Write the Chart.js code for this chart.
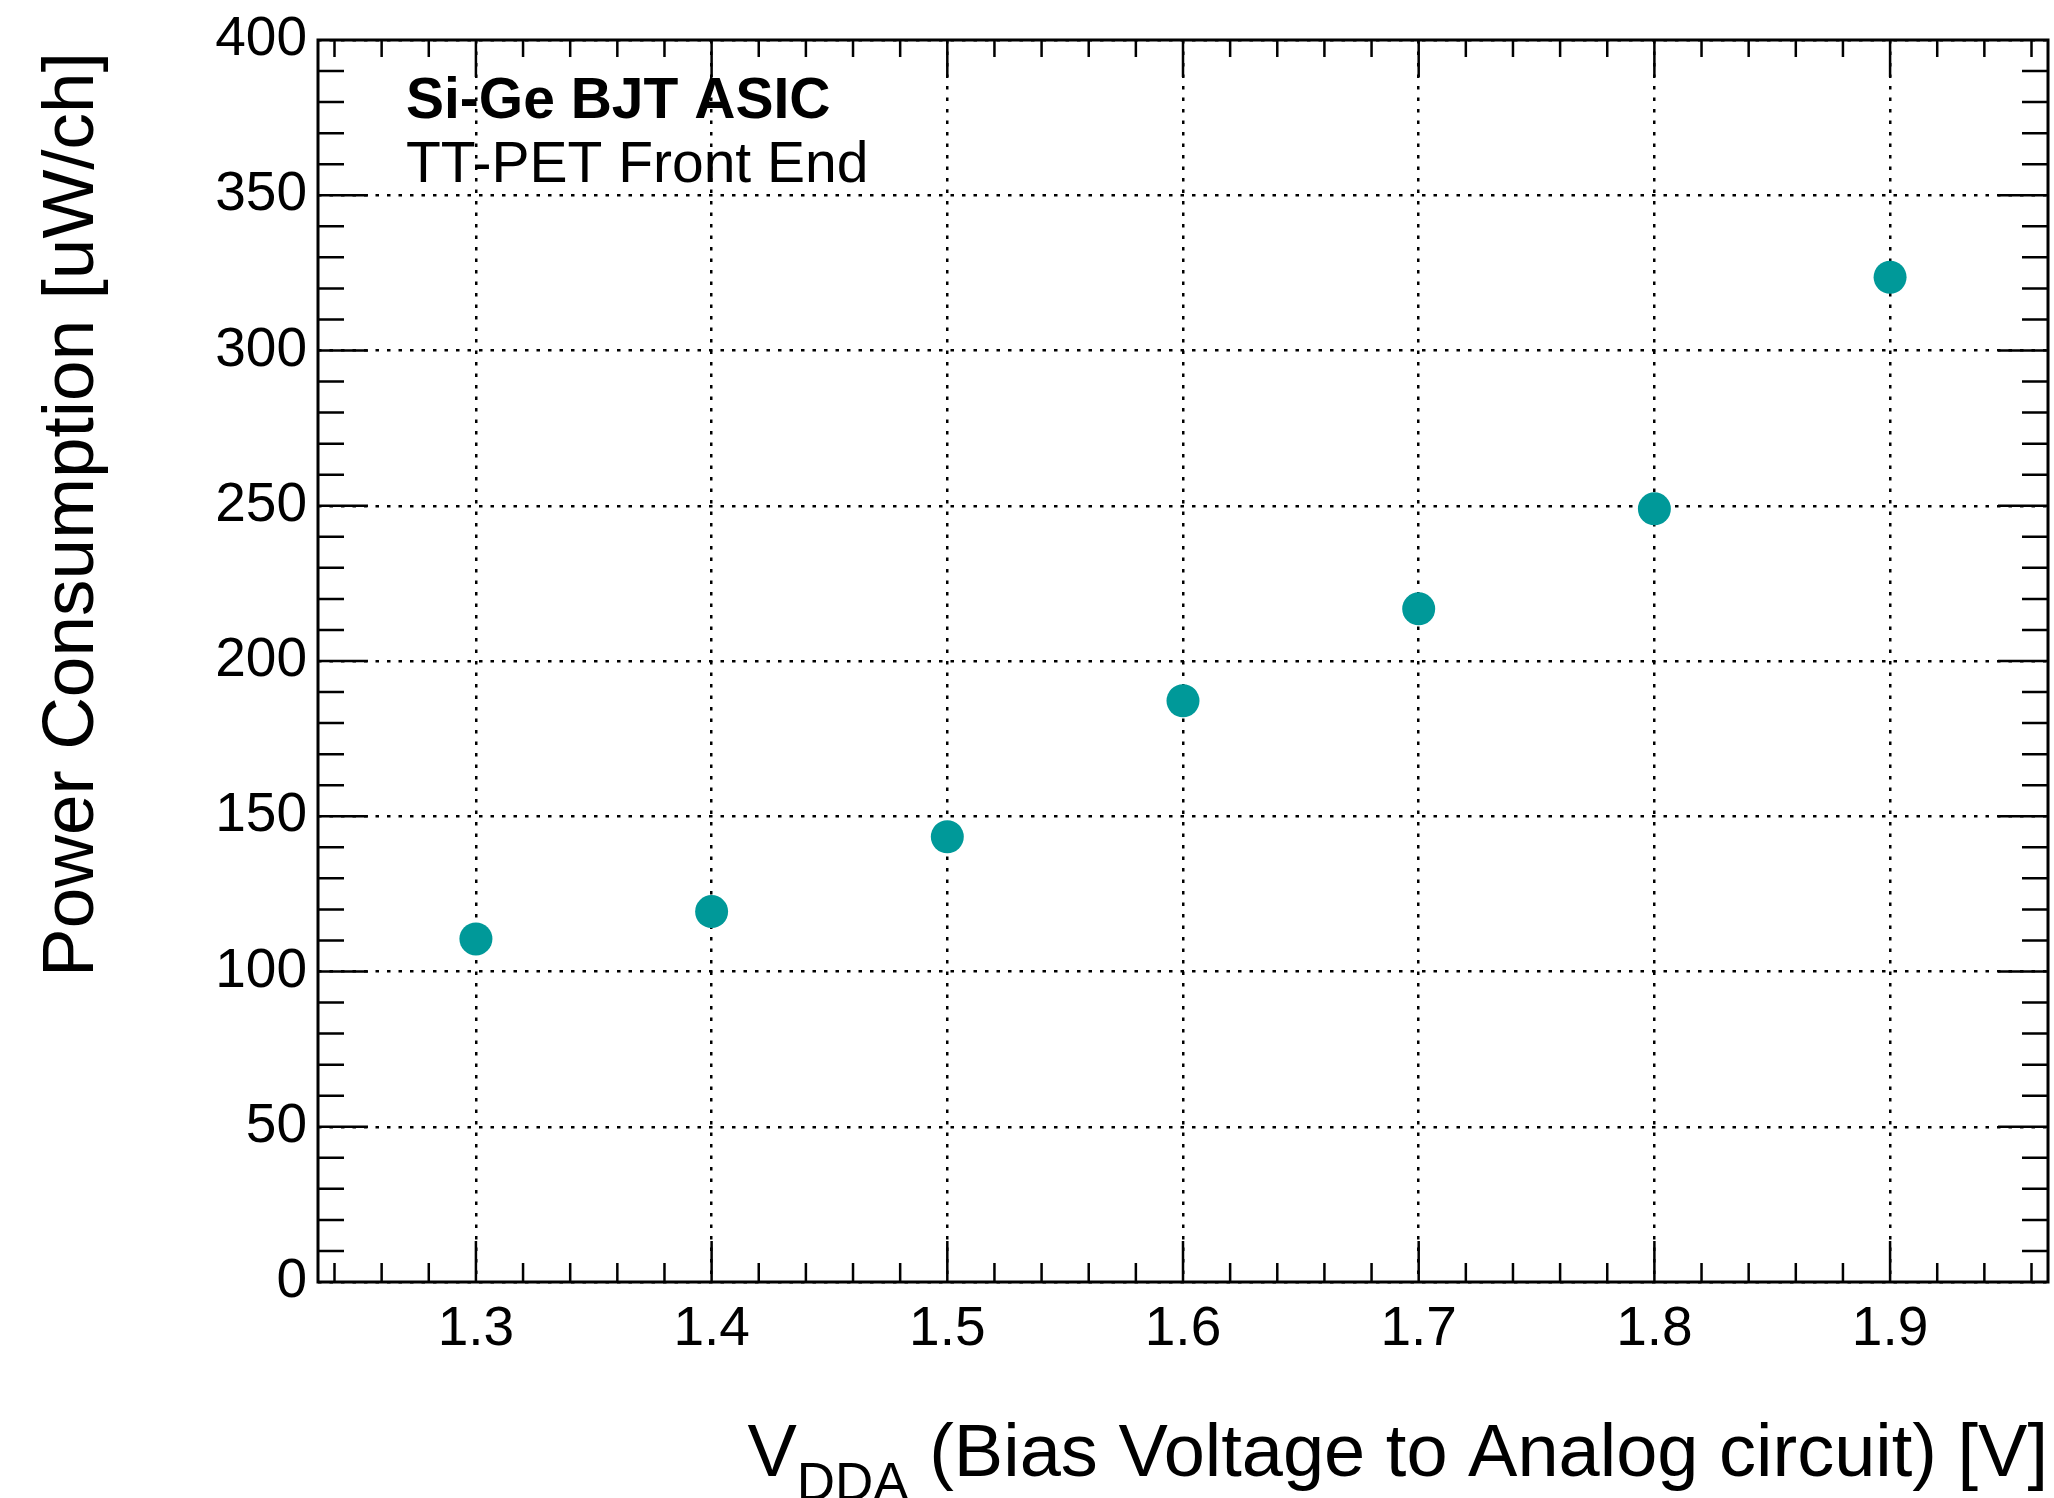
<!DOCTYPE html>
<html>
<head>
<meta charset="utf-8">
<script src="https://cdn.jsdelivr.net/npm/chart.js@4"></script>
<style>
  html, body { margin: 0; padding: 0; background: #fff; overflow: hidden; }
  #powerChart { display: block; }
</style>
</head>
<body>
<canvas id="powerChart" width="2054" height="1498"></canvas>
<script>
// Data
const voltages = [1.3, 1.4, 1.5, 1.6, 1.7, 1.8, 1.9];
const powerUW = [110.5, 119.3, 143.4, 187.2, 216.8, 249.0, 323.6];

const xRange = [1.233, 1.967];
const yRange = [0, 400];
const xMajor = 0.1, xMinor = 0.02;
const yMajor = 50, yMinor = 10;

const FONT = "'Liberation Sans', Arial, Helvetica, sans-serif";
const POINT_COLOR = '#009999';

// ROOT-style frame with inward ticks, plus the text labels
const frameTicks = {
  id: 'frameTicks',
  afterDraw(chart) {
    const { ctx, chartArea: a, scales } = chart;
    const xs = scales.x, ys = scales.y;
    ctx.save();
    ctx.strokeStyle = '#000';
    ctx.lineWidth = 3;
    ctx.lineCap = 'butt';
    ctx.strokeRect(a.left, a.top, a.right - a.left, a.bottom - a.top);

    ctx.lineWidth = 2.5;
    ctx.beginPath();
    // x ticks (bottom and top)
    for (let v = 1.24; v < xRange[1]; v += xMinor) {
      const px = xs.getPixelForValue(v);
      const major = Math.abs(v / xMajor - Math.round(v / xMajor)) < 1e-6;
      const lb = major ? 41 : 19, lt = major ? 37 : 17;
      ctx.moveTo(px, a.bottom); ctx.lineTo(px, a.bottom - lb);
      ctx.moveTo(px, a.top); ctx.lineTo(px, a.top + lt);
    }
    // y ticks (left and right)
    for (let v = yRange[0] + yMinor; v < yRange[1]; v += yMinor) {
      const py = ys.getPixelForValue(v);
      const len = (v % yMajor === 0) ? 50 : 26;
      ctx.moveTo(a.left, py); ctx.lineTo(a.left + len, py);
      ctx.moveTo(a.right, py); ctx.lineTo(a.right - len, py);
    }
    ctx.stroke();

    // in-plot labels
    ctx.fillStyle = '#000';
    ctx.textAlign = 'left';
    ctx.textBaseline = 'alphabetic';
    ctx.font = 'bold 57px ' + FONT;
    ctx.fillText('Si-Ge BJT ASIC', 406, 118);
    ctx.font = '57px ' + FONT;
    ctx.fillText('TT-PET Front End', 406, 182);

    // x axis title with subscript, right aligned to the frame
    const mainFont = '74px ' + FONT, subFont = '53px ' + FONT;
    const rest = ' (Bias Voltage to Analog circuit) [V]';
    ctx.font = mainFont;
    const wV = ctx.measureText('V').width;
    const wRest = ctx.measureText(rest).width;
    ctx.font = subFont;
    const wSub = ctx.measureText('DDA').width;
    let x0 = a.right - (wV + wSub + wRest);
    const base = 1476;
    ctx.font = mainFont;
    ctx.fillText('V', x0, base);
    ctx.font = subFont;
    ctx.fillText('DDA', x0 + wV, base + 24);
    ctx.font = mainFont;
    ctx.fillText(rest, x0 + wV + wSub, base);

    // y axis title, rotated, right aligned to the top of the frame
    ctx.translate(93, 52);
    ctx.rotate(-Math.PI / 2);
    ctx.textAlign = 'right';
    ctx.font = '73px ' + FONT;
    ctx.fillText('Power Consumption [uW/ch]', 0, 0);
    ctx.restore();
  }
};

const gridStyle = {
  color: '#000',
  lineWidth: 2.5,
  drawTicks: false
};

new Chart(document.getElementById('powerChart'), {
  type: 'scatter',
  data: {
    datasets: [{
      label: 'Power',
      data: voltages.map((v, i) => ({ x: v, y: powerUW[i] })),
      backgroundColor: POINT_COLOR,
      borderColor: POINT_COLOR,
      borderWidth: 0,
      pointRadius: 16.5,
      pointHoverRadius: 16.5
    }]
  },
  options: {
    responsive: false,
    animation: false,
    events: [],
    layout: {
      autoPadding: false,
      padding: { top: 40, right: 6, left: 0, bottom: 0 }
    },
    plugins: {
      legend: { display: false },
      tooltip: { enabled: false }
    },
    scales: {
      x: {
        type: 'linear',
        min: xRange[0],
        max: xRange[1],
        grid: gridStyle,
        border: { display: false, dash: [3.5, 8] },
        ticks: {
          stepSize: xMajor,
          includeBounds: false,
          padding: 15,
          color: '#000',
          font: { family: FONT, size: 55 },
          maxRotation: 0,
          callback: v => v.toFixed(1)
        },
        afterFit: s => {
          s.height = 216;
          s.paddingLeft = 0;
          s.paddingRight = 0;
        }
      },
      y: {
        type: 'linear',
        min: yRange[0],
        max: yRange[1],
        grid: gridStyle,
        border: { display: false, dash: [3.5, 8] },
        ticks: {
          stepSize: yMajor,
          padding: 11,
          color: '#000',
          font: { family: FONT, size: 55 }
        },
        afterFit: s => {
          s.width = 318;
          s.paddingTop = 0;
          s.paddingBottom = 0;
        }
      }
    }
  },
  plugins: [frameTicks]
});
</script>
</body>
</html>
